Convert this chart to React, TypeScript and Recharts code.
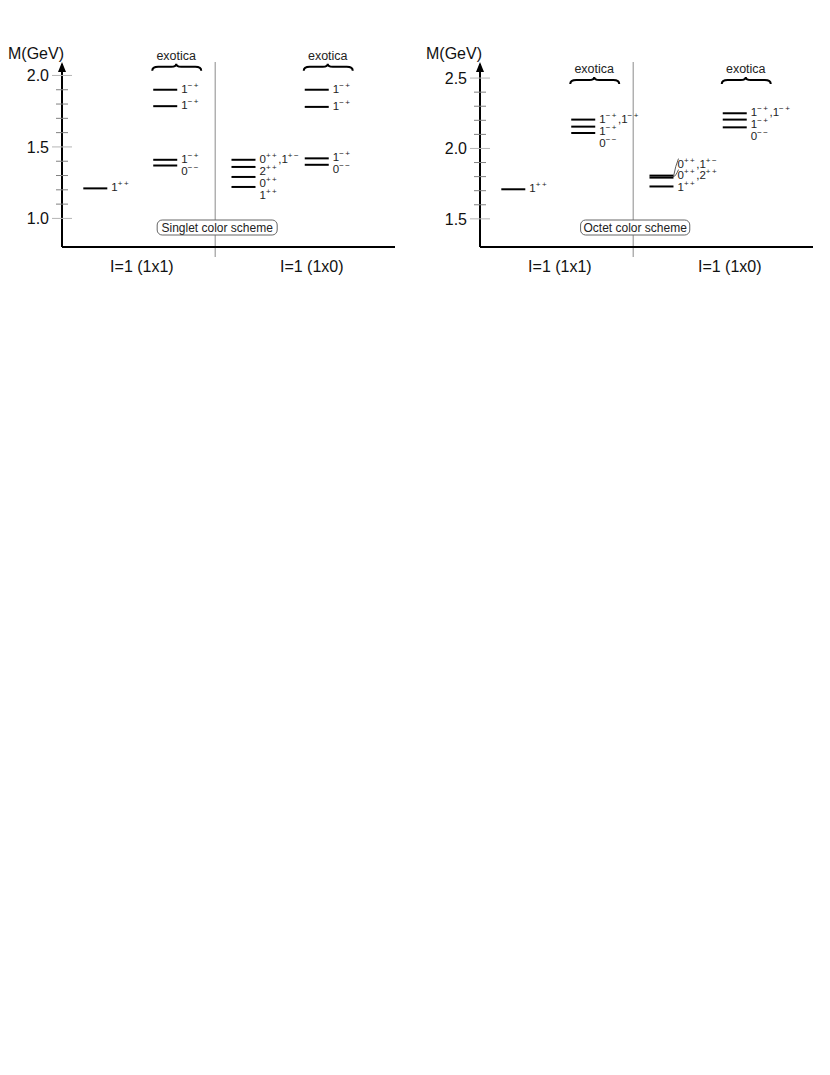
import { ReferenceLine, Scatter, ScatterChart, XAxis, YAxis } from "recharts";

type Level = { m: number; jpc: string[] };

const FONT = "'Liberation Sans', Arial, sans-serif";

const REGIONS = ["I=1 (1x1)", "I=1 (1x0)"];

// singlet color scheme, masses in GeV
const SINGLET_1X1: Level[] = [{ m: 1.21, jpc: ["1++"] }];
const SINGLET_1X1_EXOTIC: Level[] = [
  { m: 1.9, jpc: ["1-+"] },
  { m: 1.785, jpc: ["1-+"] },
  { m: 1.41, jpc: ["1-+"] },
  { m: 1.37, jpc: ["0--"] },
];
const SINGLET_1X0: Level[] = [
  { m: 1.41, jpc: ["0++", "1+-"] },
  { m: 1.36, jpc: ["2++"] },
  { m: 1.29, jpc: ["0++"] },
  { m: 1.22, jpc: ["1++"] },
];
const SINGLET_1X0_EXOTIC: Level[] = [
  { m: 1.9, jpc: ["1-+"] },
  { m: 1.78, jpc: ["1-+"] },
  { m: 1.42, jpc: ["1-+"] },
  { m: 1.375, jpc: ["0--"] },
];

// octet color scheme
const OCTET_1X1: Level[] = [{ m: 1.71, jpc: ["1++"] }];
const OCTET_1X1_EXOTIC: Level[] = [
  { m: 2.205, jpc: ["1-+", "1-+"] },
  { m: 2.155, jpc: ["1-+"] },
  { m: 2.11, jpc: ["0--"] },
];
const OCTET_1X0: Level[] = [
  { m: 1.8, jpc: ["0++", "1+-"] },
  { m: 1.8, jpc: ["0++", "2++"] },
  { m: 1.73, jpc: ["1++"] },
];
const OCTET_1X0_EXOTIC: Level[] = [
  { m: 2.25, jpc: ["1-+", "1-+"] },
  { m: 2.205, jpc: ["1-+"] },
  { m: 2.15, jpc: ["0--"] },
];

const SINGLET_TICKS = [1.0, 1.1, 1.2, 1.3, 1.4, 1.5, 1.6, 1.7, 1.8, 1.9, 2.0];
const OCTET_TICKS = [1.5, 1.6, 1.7, 1.8, 1.9, 2.0, 2.1, 2.2, 2.3, 2.4, 2.5];

// layout
const CHART_W = 415;
const CHART_H = 290;
const MARGIN = { top: 64, right: 20, bottom: 3, left: 10 };
const Y_AXIS_W = 52;
const X_AXIS_H = 40;
const PLOT_H = CHART_H - MARGIN.top - MARGIN.bottom - X_AXIS_H;
const COLUMN_X = [1.0, 3.1, 5.45, 7.65];
const EXOTIC_COLUMNS = [1, 3];
const DIVIDER_X = 4.6;
const REGION_X = [2.4, 7.5];

const SCHEMES = [
  {
    name: "Singlet color scheme",
    domain: [0.8, 2.08] as [number, number],
    ticks: SINGLET_TICKS,
    columns: [SINGLET_1X1, SINGLET_1X1_EXOTIC, SINGLET_1X0, SINGLET_1X0_EXOTIC],
    braceMass: 2.075,
    left: 0,
  },
  {
    name: "Octet color scheme",
    domain: [1.3, 2.6] as [number, number],
    ticks: OCTET_TICKS,
    columns: [OCTET_1X1, OCTET_1X1_EXOTIC, OCTET_1X0, OCTET_1X0_EXOTIC],
    braceMass: 2.5,
    left: 418,
  },
];

// push labels down so they don't collide; degenerate levels stack upward
function placeLabels(levels: Level[], col: number, pxPerGeV: number) {
  const out: any[] = [];
  let prev = -Infinity;
  let i = 0;
  while (i < levels.length) {
    let n = 1;
    while (i + n < levels.length && levels[i + n].m === levels[i].m) n++;
    const lineY = -levels[i].m * pxPerGeV;
    for (let k = 0; k < n; k++) {
      const base =
        n > 1 ? lineY + 2 - (n - 1 - k) * 11 : Math.max(lineY + 3, prev + 12);
      out.push({
        ...levels[i + k],
        x: COLUMN_X[col],
        labelDy: base - lineY,
        lineDy: (k - (n - 1) / 2) * 2,
        degenerate: n > 1,
      });
      prev = base;
    }
    i += n;
  }
  return out;
}

function JpcText({ x, y, states }: { x: number; y: number; states: string[] }) {
  const parts: any[] = [];
  states.forEach((s, i) => {
    parts.push(
      <tspan key={`b${i}`} dy={i === 0 ? 0 : 5}>
        {(i > 0 ? "," : "") + s[0]}
      </tspan>
    );
    parts.push(
      <tspan key={`s${i}`} dy={-5} fontSize={8} letterSpacing={1.5}>
        {s.slice(1).replace(/-/g, "\u2212")}
      </tspan>
    );
  });
  return (
    <text x={x} y={y} fontSize={11.5} fill="#222" fontFamily={FONT}>
      {parts}
    </text>
  );
}

function LevelShape(props: any) {
  const { cx, cy, payload } = props;
  const y = cy + payload.lineDy;
  const ly = cy + payload.labelDy;
  return (
    <g>
      <line x1={cx - 12} x2={cx + 12} y1={y} y2={y} stroke="#000" strokeWidth={2} />
      {payload.degenerate && (
        <path
          d={`M${cx + 12},${cy} Q${cx + 14},${ly - 2} ${cx + 17},${ly - 9}`}
          fill="none"
          stroke="#333"
          strokeWidth={0.8}
        />
      )}
      <JpcText x={cx + 16} y={ly} states={payload.jpc} />
    </g>
  );
}

function BraceShape(props: any) {
  const { cx, cy } = props;
  const x0 = cx - 13;
  const x1 = cx + 36;
  const xm = cx + 11;
  const y = cy;
  const d = `M${x0},${y + 6} Q${x0},${y + 2} ${x0 + 6},${y + 2} L${xm - 5},${y + 2} Q${xm},${y + 2} ${xm},${y - 1} Q${xm},${y + 2} ${xm + 5},${y + 2} L${x1 - 6},${y + 2} Q${x1},${y + 2} ${x1},${y + 6}`;
  return (
    <g>
      <path d={d} fill="none" stroke="#000" strokeWidth={2} />
      <text x={xm} y={y - 5} textAnchor="middle" fontSize={12.5} fill="#222" fontFamily={FONT}>
        exotica
      </text>
    </g>
  );
}

function AxisArrow(props: any) {
  const { x, y } = props.viewBox;
  return (
    <g>
      <polygon points={`${x},${y - 2} ${x - 4},${y + 8} ${x + 4},${y + 8}`} fill="#000" />
      <text x={x - 54} y={y - 5} fontSize={16} fill="#111" fontFamily={FONT}>
        M(GeV)
      </text>
    </g>
  );
}

function SchemeDivider(props: any) {
  const { viewBox, name } = props;
  const { x, y, height } = viewBox;
  const w = 12 + name.length * 5.4;
  const top = y + height - 27;
  const bx = x + 2;
  return (
    <g>
      <line x1={x} x2={x} y1={y - 2} y2={y + height + 10} stroke="#8a8a8a" strokeWidth={1} />
      <rect x={bx - w / 2} y={top} width={w} height={15} rx={5} fill="#fff" stroke="#666" strokeWidth={1} />
      <text x={bx} y={top + 12} textAnchor="middle" fontSize={12} fill="#222" fontFamily={FONT}>
        {name}
      </text>
    </g>
  );
}

function MassTick(props: any) {
  const { x, y, payload } = props;
  const v = payload.value;
  const major = Math.abs(v * 2 - Math.round(v * 2)) < 1e-6;
  return (
    <g>
      <line
        x1={x - (major ? 10 : 6)}
        x2={x + (major ? 10 : 6)}
        y1={y}
        y2={y}
        stroke={major ? "#b5b5b5" : "#808080"}
        strokeWidth={1}
      />
      {major && (
        <text x={x - 13} y={y + 6} textAnchor="end" fontSize={16} fill="#111" fontFamily={FONT}>
          {v.toFixed(1)}
        </text>
      )}
    </g>
  );
}

function RegionTick(props: any) {
  const { x, y, payload } = props;
  const idx = REGION_X.indexOf(payload.value);
  return (
    <text x={x} y={y + 25} textAnchor="middle" fontSize={16} fill="#111" fontFamily={FONT}>
      {REGIONS[idx]}
    </text>
  );
}

function SchemeChart({ scheme }: { scheme: (typeof SCHEMES)[number] }) {
  const pxPerGeV = PLOT_H / (scheme.domain[1] - scheme.domain[0]);
  const braces = EXOTIC_COLUMNS.map((c) => ({ x: COLUMN_X[c], m: scheme.braceMass }));
  return (
    <div style={{ position: "absolute", left: scheme.left, top: 0 }}>
      <ScatterChart width={CHART_W} height={CHART_H} margin={MARGIN}>
        <XAxis
          type="number"
          dataKey="x"
          domain={[0, 10]}
          ticks={REGION_X}
          interval={0}
          tickLine={false}
          tickSize={0}
          tickMargin={0}
          height={X_AXIS_H}
          axisLine={{ stroke: "#000", strokeWidth: 2 }}
          tick={<RegionTick />}
        />
        <YAxis
          type="number"
          dataKey="m"
          domain={scheme.domain}
          ticks={scheme.ticks}
          interval={0}
          width={Y_AXIS_W}
          tickLine={false}
          tickSize={0}
          tickMargin={0}
          axisLine={{ stroke: "#000", strokeWidth: 2 }}
          tick={<MassTick />}
        />
        <ReferenceLine x={0} stroke="transparent" label={<AxisArrow />} />
        <ReferenceLine
          x={DIVIDER_X}
          stroke="transparent"
          label={<SchemeDivider name={scheme.name} />}
        />
        {scheme.columns.map((levels, c) => (
          <Scatter
            key={c}
            data={placeLabels(levels, c, pxPerGeV)}
            shape={<LevelShape />}
            isAnimationActive={false}
          />
        ))}
        <Scatter data={braces} shape={<BraceShape />} isAnimationActive={false} />
      </ScatterChart>
    </div>
  );
}

export default function App() {
  return (
    <div
      style={{
        position: "absolute",
        left: 0,
        top: 0,
        width: 830,
        height: 1075,
        background: "#fff",
        fontFamily: FONT,
      }}
    >
      {SCHEMES.map((s) => (
        <SchemeChart key={s.name} scheme={s} />
      ))}
    </div>
  );
}
